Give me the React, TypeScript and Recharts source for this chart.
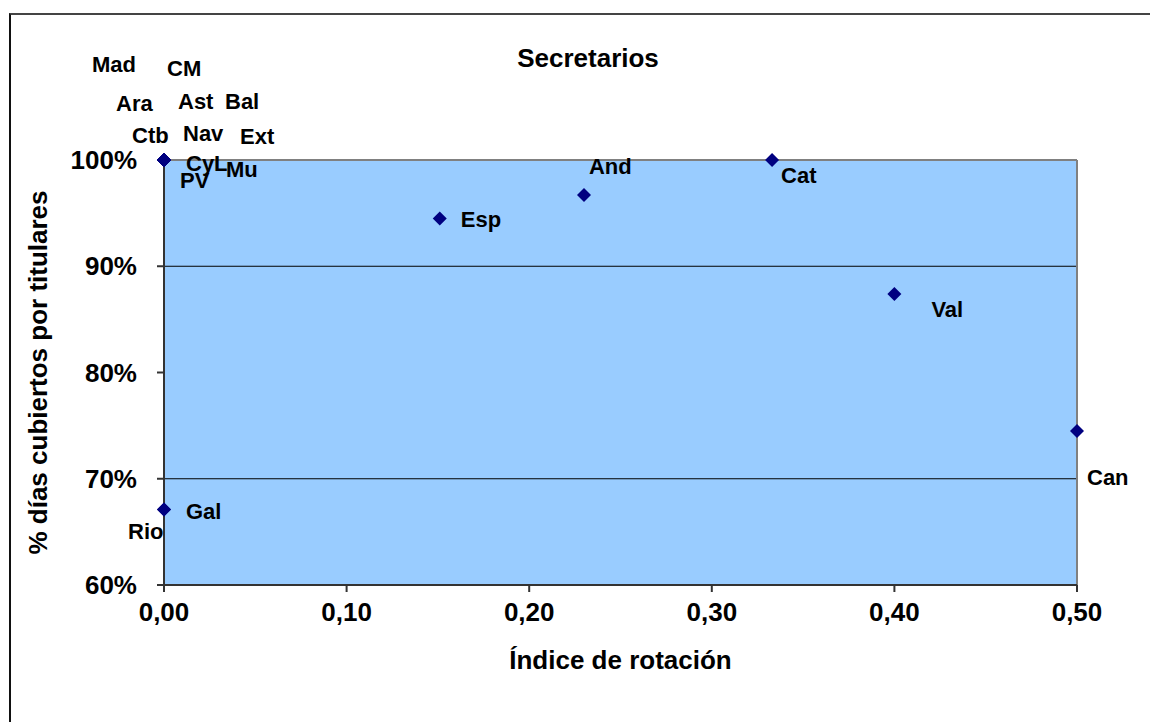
import { ScatterChart, Scatter, XAxis, YAxis, CartesianGrid, ReferenceLine, Label } from "recharts";

// regions (label names), rotation index, % days covered
const regions = ["Mad", "CM", "Ara", "Ast", "Bal", "Ctb", "Nav", "Ext", "CyL", "Mu", "PV", "Gal", "Rio", "Esp", "And", "Cat", "Val", "Can"];
const rotation = [0, 0, 0, 0, 0, 0, 0, 0, 0, 0, 0, 0, 0, 0.151, 0.23, 0.333, 0.4, 0.5];
const covered = [1, 1, 1, 1, 1, 1, 1, 1, 1, 1, 1, 0.671, 0.671, 0.945, 0.967, 1, 0.874, 0.745];

const xTicks = [0, 0.1, 0.2, 0.3, 0.4, 0.5];
const yTicks = [0.6, 0.7, 0.8, 0.9, 1];
const gridLines = [0.9, 0.7];

// label offsets from the marker (Excel moved these by hand)
const labelOffset: Record<string, [number, number]> = {
  Mad: [-72, -96], CM: [3, -92], Ara: [-48, -57], Ast: [14, -59], Bal: [61, -59],
  Ctb: [-32, -25], Nav: [19, -27], Ext: [76, -24], CyL: [22, 3], Mu: [62, 9],
  PV: [16, 20], Gal: [22, 2], Rio: [-36, 22], Esp: [21, 1], And: [5, -29],
  Cat: [9, 15], Val: [37, 16], Can: [10, 47],
};

const data = regions.map((name, i) => ({ name, x: rotation[i], y: covered[i] }));

const FONT = "'Liberation Sans', Arial, sans-serif";

function Diamond(props: any) {
  const { cx, cy, payload } = props;
  const [dx, dy] = labelOffset[payload.name] || [10, 0];
  const r = 7;
  return (
    <g>
      <polygon points={`${cx},${cy - r} ${cx + r},${cy} ${cx},${cy + r} ${cx - r},${cy}`} fill="#000080" />
      <text x={cx + dx} y={cy + dy} dominantBaseline="central" fontSize={22} fontWeight="bold" fontFamily={FONT} fill="#000">
        {payload.name}
      </text>
    </g>
  );
}

export default function App() {
  return (
    <div style={{ position: "fixed", left: 0, top: 0, width: 1150, height: 722, overflow: "hidden", background: "#fff", fontFamily: FONT }}>
      <div style={{ position: "absolute", left: 9, top: 13, width: 1200, height: 800, borderTop: "2px solid #444", borderLeft: "2px solid #111" }} />
      <div style={{ position: "absolute", left: 0, top: 0 }}>
        <ScatterChart width={1150} height={722} margin={{ top: 160, right: 73, left: 30, bottom: 37 }}>
          <CartesianGrid horizontal={false} vertical={false} fill="#99CCFF" />
          {gridLines.map((g) => (
            <ReferenceLine key={g} y={g} stroke="#000" strokeWidth={1} />
          ))}
          <ReferenceLine y={1} stroke="#808080" strokeWidth={2} />
          <ReferenceLine x={0.5} stroke="#808080" strokeWidth={2} />
          <XAxis
            type="number"
            dataKey="x"
            domain={[0, 0.5]}
            ticks={xTicks}
            height={100}
            tickSize={7}
            tickMargin={11}
            stroke="#333"
            strokeWidth={2}
            tick={{ fill: "#000", fontSize: 26, fontWeight: "bold", fontFamily: FONT }}
            tickFormatter={(v: number) => v.toFixed(2).replace(".", ",")}
          >
            <Label value="Índice de rotación" position="insideBottom" offset={16} style={{ fill: "#000", fontSize: 26, fontWeight: "bold", fontFamily: FONT }} />
          </XAxis>
          <YAxis
            type="number"
            dataKey="y"
            domain={[0.6, 1]}
            ticks={yTicks}
            width={134}
            tickSize={7}
            tickMargin={20}
            stroke="#333"
            strokeWidth={2}
            tick={{ fill: "#000", fontSize: 26, fontWeight: "bold", fontFamily: FONT }}
            tickFormatter={(v: number) => `${Math.round(v * 100)}%`}
          >
            <Label value="% días cubiertos por titulares" angle={-90} position="insideLeft" offset={8} style={{ fill: "#000", fontSize: 26, fontWeight: "bold", fontFamily: FONT, textAnchor: "middle" }} />
          </YAxis>
          <Scatter data={data} shape={Diamond} isAnimationActive={false} />
        </ScatterChart>
      </div>
      <div style={{ position: "absolute", left: 388, width: 400, top: 42, textAlign: "center", fontSize: 26, fontWeight: "bold", lineHeight: "32px" }}>
        Secretarios
      </div>
    </div>
  );
}
